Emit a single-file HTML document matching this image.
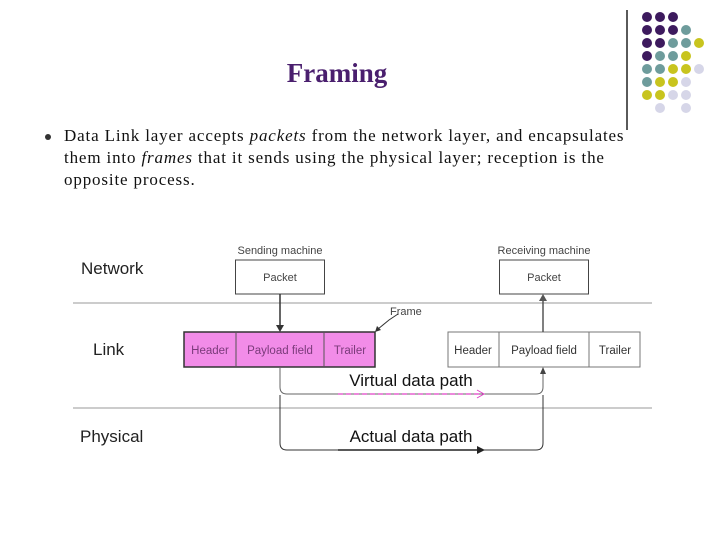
<!DOCTYPE html>
<html><head><style>
body{margin:0;width:720px;height:540px;background:#fff;overflow:hidden;position:relative;font-family:"Liberation Serif",serif}
.t{position:absolute;left:0;width:674px;text-align:center;top:58px;font-size:27px;font-weight:bold;color:#4a1f6e}
.p{position:absolute;left:64px;top:125px;white-space:nowrap;font-size:17px;line-height:22px;color:#111;letter-spacing:0.85px}
.b{position:absolute;left:45px;top:134px;width:6px;height:6px;border-radius:50%;background:#333}
</style></head><body>
<div class="t">Framing</div>
<div class="b"></div>
<div class="p">Data Link layer accepts <i>packets</i> from the network layer, and encapsulates<br>them into <i>frames</i> that it sends using the physical layer; reception is the<br>opposite process.</div>
<svg width="720" height="540" style="position:absolute;left:0;top:0" font-family="Liberation Sans,sans-serif">
<line x1="627" y1="10" x2="627" y2="130" stroke="#222" stroke-width="1.5"/>
<g>
<circle cx="647" cy="17" r="5" fill="#3d1a5e"/><circle cx="660" cy="17" r="5" fill="#3d1a5e"/><circle cx="673" cy="17" r="5" fill="#3d1a5e"/>
<circle cx="647" cy="30" r="5" fill="#3d1a5e"/><circle cx="660" cy="30" r="5" fill="#3d1a5e"/><circle cx="673" cy="30" r="5" fill="#3d1a5e"/><circle cx="686" cy="30" r="5" fill="#6e9c9c"/>
<circle cx="647" cy="43" r="5" fill="#3d1a5e"/><circle cx="660" cy="43" r="5" fill="#3d1a5e"/><circle cx="673" cy="43" r="5" fill="#6e9c9c"/><circle cx="686" cy="43" r="5" fill="#6e9c9c"/><circle cx="699" cy="43" r="5" fill="#c8c41e"/>
<circle cx="647" cy="56" r="5" fill="#3d1a5e"/><circle cx="660" cy="56" r="5" fill="#6e9c9c"/><circle cx="673" cy="56" r="5" fill="#6e9c9c"/><circle cx="686" cy="56" r="5" fill="#c8c41e"/>
<circle cx="647" cy="69" r="5" fill="#6e9c9c"/><circle cx="660" cy="69" r="5" fill="#6e9c9c"/><circle cx="673" cy="69" r="5" fill="#c8c41e"/><circle cx="686" cy="69" r="5" fill="#c8c41e"/><circle cx="699" cy="69" r="5" fill="#d6d6e8"/>
<circle cx="647" cy="82" r="5" fill="#6e9c9c"/><circle cx="660" cy="82" r="5" fill="#c8c41e"/><circle cx="673" cy="82" r="5" fill="#c8c41e"/><circle cx="686" cy="82" r="5" fill="#d6d6e8"/>
<circle cx="647" cy="95" r="5" fill="#c8c41e"/><circle cx="660" cy="95" r="5" fill="#c8c41e"/><circle cx="673" cy="95" r="5" fill="#d6d6e8"/><circle cx="686" cy="95" r="5" fill="#d6d6e8"/>
<circle cx="660" cy="108" r="5" fill="#d6d6e8"/><circle cx="686" cy="108" r="5" fill="#d6d6e8"/>
</g>
<g font-size="17" fill="#222">
<text x="81" y="274">Network</text><text x="93" y="355">Link</text><text x="80" y="442">Physical</text>
</g>
<line x1="73" y1="303" x2="652" y2="303" stroke="#999"/>
<line x1="73" y1="408" x2="652" y2="408" stroke="#999"/>
<rect x="235.5" y="260" width="89" height="34" fill="#fff" stroke="#444"/>
<rect x="499.5" y="260" width="89" height="34" fill="#fff" stroke="#444"/>
<g font-size="11" fill="#444" text-anchor="middle">
<text x="280" y="254">Sending machine</text><text x="544" y="254">Receiving machine</text>
<text x="280" y="281">Packet</text><text x="544" y="281">Packet</text>
</g>
<rect x="184" y="332" width="191" height="35" fill="#f28ce8" stroke="#333" stroke-width="1.5"/>
<line x1="236" y1="332" x2="236" y2="367" stroke="#555"/><line x1="324" y1="332" x2="324" y2="367" stroke="#555"/>
<rect x="448" y="332" width="192" height="35" fill="#fff" stroke="#777"/>
<line x1="499" y1="332" x2="499" y2="367" stroke="#777"/><line x1="589" y1="332" x2="589" y2="367" stroke="#777"/>
<g font-size="11.5" text-anchor="middle">
<text x="210" y="354" fill="#7a3a7a">Header</text><text x="280" y="354" fill="#7a3a7a">Payload field</text><text x="350" y="354" fill="#7a3a7a">Trailer</text>
<text x="473" y="354" fill="#333">Header</text><text x="544" y="354" fill="#333">Payload field</text><text x="615" y="354" fill="#333">Trailer</text>
</g>
<text x="390" y="315" font-size="11" fill="#444">Frame</text>
<path d="M398 314 L389 320 L378 329" stroke="#333" fill="none"/><path d="M375 332 l2 -6 l4 4z" fill="#333"/>
<line x1="280" y1="294" x2="280" y2="327" stroke="#333" stroke-width="1.5"/><path d="M276 325 L280 332 L284 325z" fill="#333"/>
<line x1="543" y1="332" x2="543" y2="299" stroke="#555" stroke-width="1.5"/><path d="M539 301 L543 294 L547 301z" fill="#555"/>
<path d="M280 368 V387 Q280 394 287 394 H536 Q543 394 543 387 V372" stroke="#666" fill="none"/><path d="M540 374 L543 367 L546 374z" fill="#444"/>
<line x1="338" y1="394" x2="481" y2="394" stroke="#e040c8" stroke-width="1.3" stroke-dasharray="5,3"/><path d="M477 390 L484 394 L477 398" stroke="#e040c8" fill="none"/>
<path d="M280 395 V443 Q280 450 287 450 H536 Q543 450 543 443 V395" stroke="#333" fill="none"/>
<line x1="338" y1="450" x2="480" y2="450" stroke="#222" stroke-width="1.5"/><path d="M477 446 L485 450 L477 454z" fill="#222"/>
<g font-size="17" fill="#111" text-anchor="middle"><text x="411" y="386">Virtual data path</text><text x="411" y="442">Actual data path</text></g>
</svg>
</body></html>
